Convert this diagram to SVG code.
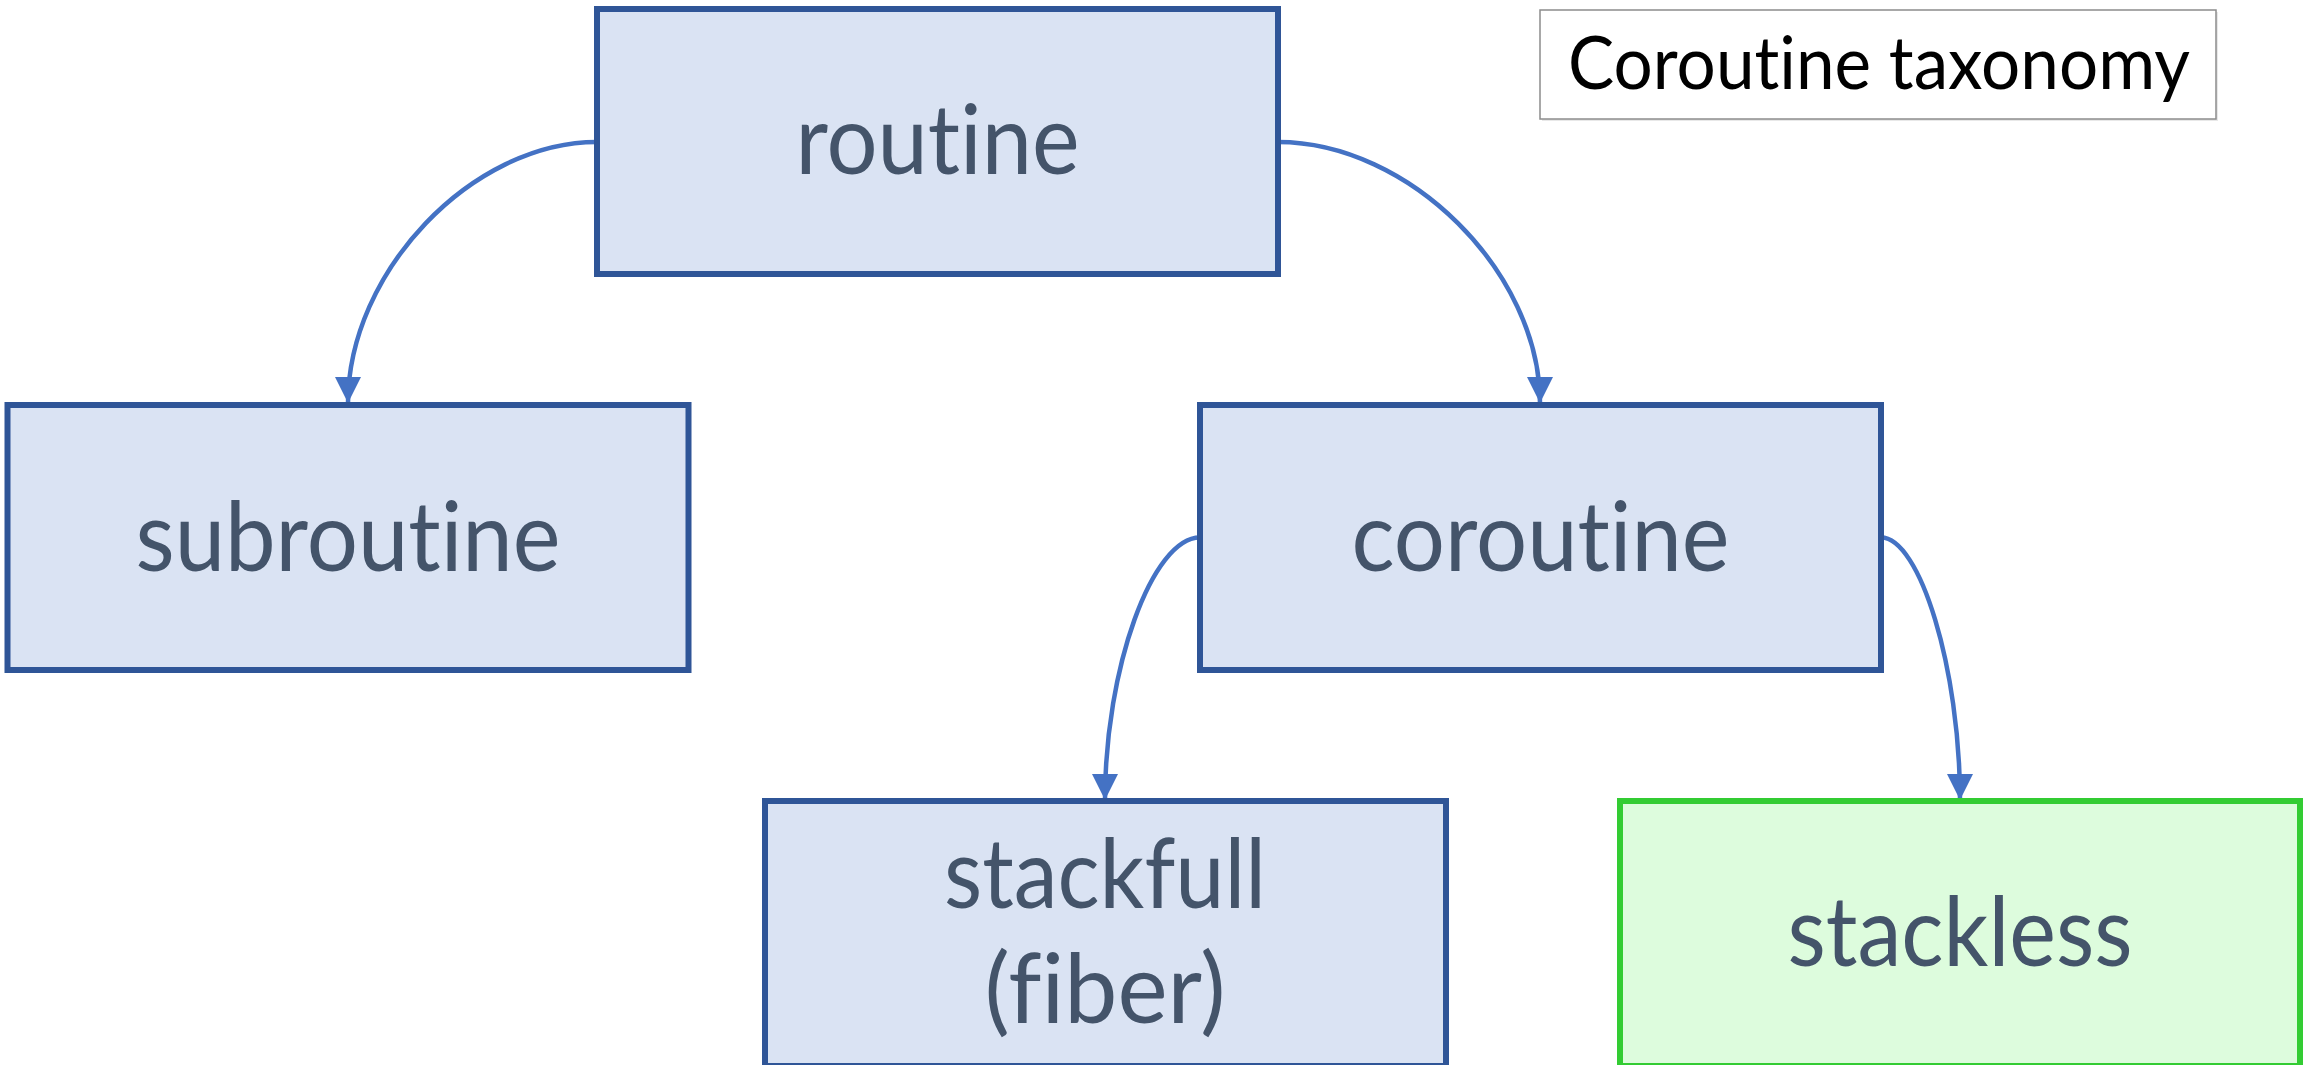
<svg xmlns="http://www.w3.org/2000/svg" width="2315" height="1065" viewBox="0 0 2315 1065">
<style>
  .box { fill: #DAE3F3; stroke: #2F5597; stroke-width: 6; }
  .green { fill: #DDFCDD; stroke: #33CC33; stroke-width: 6; }
  .lbl { font-family: Lato, "Open Sans", "Liberation Sans", sans-serif; font-size: 96px; fill: #44546A; text-anchor: middle; font-variant-ligatures: none; font-feature-settings: "liga" 0, "clig" 0; }
  .title { font-family: Lato, "Open Sans", "Liberation Sans", sans-serif; font-size: 74px; fill: #000000; text-anchor: middle; font-variant-ligatures: none; font-feature-settings: "liga" 0, "clig" 0; }
  .conn { fill: none; stroke: #4472C4; stroke-width: 4.5; }
</style>
<defs>
  <marker id="arrow" markerUnits="userSpaceOnUse" markerWidth="27" markerHeight="27" refX="26" refY="13" orient="auto" viewBox="0 0 27 27">
    <path d="M0,0 L26,13 L0,26 Z" fill="#4472C4"/>
  </marker>
</defs>
<rect width="2315" height="1065" fill="#FFFFFF"/>

<g id="connectors">
  <path class="conn" d="M597,142 C472,142 348,272 348,403" marker-end="url(#arrow)"/>
  <path class="conn" d="M1278,142 C1409,142 1540,272 1540,403" marker-end="url(#arrow)"/>
  <path class="conn" d="M1200,537.5 C1152,537.5 1105,669 1105,800" marker-end="url(#arrow)"/>
  <path class="conn" d="M1881,537.5 C1920,537.5 1960,669 1960,800" marker-end="url(#arrow)"/>
</g>

<g id="node-routine">
  <rect class="box" x="597" y="9" width="681" height="265"/>
  <text class="lbl" x="937.5" y="174" textLength="284" lengthAdjust="spacingAndGlyphs">routine</text>
</g>

<g id="node-subroutine">
  <rect class="box" x="7.5" y="405" width="681" height="265"/>
  <text class="lbl" x="348" y="571" textLength="425" lengthAdjust="spacingAndGlyphs">subroutine</text>
</g>

<g id="node-coroutine">
  <rect class="box" x="1200" y="405" width="681" height="265"/>
  <text class="lbl" x="1540.5" y="571" textLength="378" lengthAdjust="spacingAndGlyphs">coroutine</text>
</g>

<g id="node-stackfull">
  <rect class="box" x="765" y="801" width="681" height="265"/>
  <text class="lbl" x="1105" y="908" textLength="322" lengthAdjust="spacingAndGlyphs">stackfull</text>
  <text class="lbl" x="1105" y="1023" textLength="241" lengthAdjust="spacingAndGlyphs">(fiber)</text>
</g>

<g id="node-stackless">
  <rect class="green" x="1620" y="801" width="680" height="265"/>
  <text class="lbl" x="1960" y="966" textLength="345" lengthAdjust="spacingAndGlyphs">stackless</text>
</g>

<g id="title">
  <rect x="1542" y="12" width="676" height="109" fill="#D9D9D9" opacity="0.6"/>
  <rect x="1540" y="10" width="676" height="109" fill="#FFFFFF" stroke="#8C8C8C" stroke-width="1.5"/>
  <text class="title" x="1879" y="89" textLength="622" lengthAdjust="spacingAndGlyphs">Coroutine taxonomy</text>
</g>
</svg>
